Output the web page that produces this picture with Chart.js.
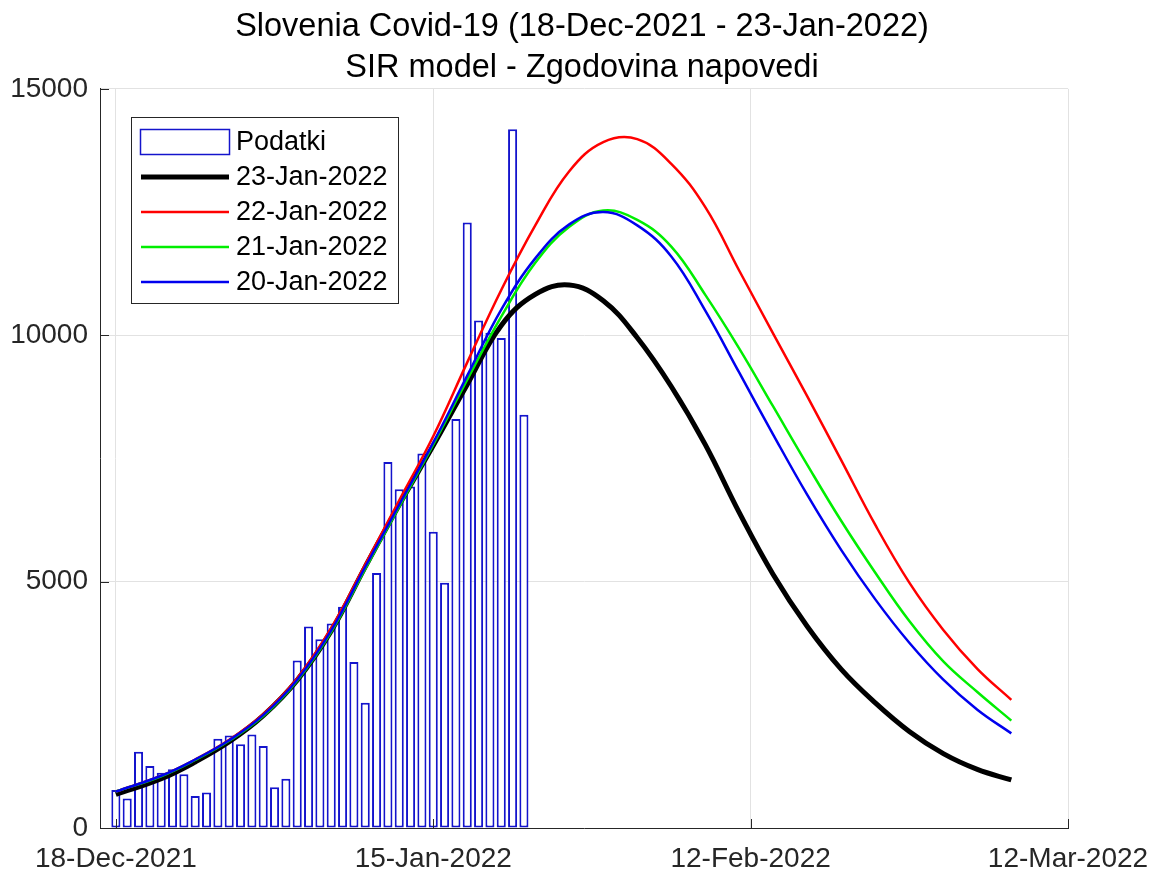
<!DOCTYPE html>
<html>
<head>
<meta charset="utf-8">
<script src="https://cdn.jsdelivr.net/npm/chart.js@4.4.0/dist/chart.umd.min.js"></script>
<style>
  html, body { margin: 0; padding: 0; background: #fff; }
</style>
</head>
<body>
<canvas id="sirChart" width="1164" height="880"></canvas>
<script>
// daily cases, one per day from 18-Dec-2021 to 23-Jan-2022
var cases = [770, 600, 1550, 1260, 1120, 1190, 1090, 650, 720, 1810,
             1875, 1700, 1900, 1665, 826, 1000, 3400, 4090, 3830, 4150,
             4490, 3370, 2540, 5175, 7430, 6875, 6930, 7600, 6010, 4975,
             8300, 12290, 10300, 10050, 9945, 14180, 8385];

// SIR forecasts, sampled at these days after 18-Dec-2021
var modelDays = [0, 4, 7, 10, 13, 16, 19, 22, 25, 28, 31, 34, 37, 40,
                 43, 46, 49, 52, 55, 58, 61, 64, 67, 70, 73, 76, 79];
var fc23Jan = [680, 1000, 1340, 1750, 2280, 3000, 4000, 5300, 6560, 7760, 9000, 10200, 10830, 11020,
               10700, 9950, 8960, 7780, 6400, 5140, 4090, 3220, 2540, 1960, 1510, 1190, 975];
var fc22Jan = [740, 1060, 1390, 1790, 2310, 3040, 4060, 5350, 6650, 7950, 9450, 10920, 12230, 13330,
               13920, 13980, 13480, 12600, 11310, 10030, 8760, 7460, 6150, 4980, 4020, 3230, 2600];
var fc21Jan = [740, 1050, 1380, 1770, 2270, 2990, 3980, 5260, 6520, 7780, 9100, 10380, 11470, 12200,
               12530, 12340, 11800, 10820, 9730, 8550, 7370, 6230, 5180, 4200, 3380, 2760, 2180];
var fc20Jan = [740, 1060, 1390, 1780, 2290, 3010, 4010, 5300, 6560, 7820, 9180, 10520, 11560, 12250,
               12500, 12230, 11600, 10500, 9240, 7980, 6760, 5640, 4640, 3760, 3010, 2400, 1920];

var titleLines = ['Slovenia Covid-19 (18-Dec-2021 - 23-Jan-2022)', 'SIR model - Zgodovina napovedi'];
var xTickDays = [0, 28, 56, 84];
var xTickLabels = ['18-Dec-2021', '15-Jan-2022', '12-Feb-2022', '12-Mar-2022'];
var yTickStep = 5000;

var FONT = '"Liberation Sans", Arial, sans-serif';
var AXIS_COLOR = '#262626';
var GRID_COLOR = '#e2e2e2';

function toPoints(xs, ys) {
    return ys.map(function (v, i) { return { x: xs[i], y: v }; });
}

function lineSet(label, values, color, width, order) {
    return {
        type: 'line',
        label: label,
        data: toPoints(modelDays, values),
        borderColor: color,
        borderWidth: width,
        pointRadius: 0,
        fill: false,
        tension: 0.4,
        order: order
    };
}

// legend drawn inside the axes, like matlab's "northwest" legend
var boxLegend = {
    id: 'boxLegend',
    afterDraw: function (chart) {
        var ctx = chart.ctx;
        var bx = 131, by = 117, bw = 267, bh = 186;
        ctx.save();
        ctx.fillStyle = '#fff';
        ctx.fillRect(bx, by, bw, bh);
        ctx.strokeStyle = AXIS_COLOR;
        ctx.lineWidth = 1;
        ctx.strokeRect(bx + 0.5, by + 0.5, bw, bh);
        ctx.font = '27px ' + FONT;
        ctx.textBaseline = 'middle';
        chart.data.datasets.forEach(function (ds, i) {
            var cy = by + 25 + i * 35;
            if (ds.type === 'bar') {
                ctx.strokeStyle = ds.borderColor;
                ctx.lineWidth = 1.5;
                ctx.strokeRect(140.5, cy - 12.5, 89, 25);
            } else {
                ctx.strokeStyle = ds.borderColor;
                ctx.lineWidth = ds.borderWidth;
                ctx.beginPath();
                ctx.moveTo(141, cy);
                ctx.lineTo(229, cy);
                ctx.stroke();
            }
            ctx.fillStyle = '#000';
            ctx.fillText(ds.label, 236, cy + 1);
        });
        ctx.restore();
    }
};

// matlab puts the tick marks inside the axes
var innerTicks = {
    id: 'innerTicks',
    afterDatasetsDraw: function (chart) {
        var a = chart.chartArea, ctx = chart.ctx;
        var xs = chart.scales.x, ys = chart.scales.y;
        ctx.save();
        ctx.strokeStyle = AXIS_COLOR;
        ctx.lineWidth = 1;
        ctx.beginPath();
        xs.ticks.forEach(function (t) {
            var px = Math.round(xs.getPixelForValue(t.value)) + 0.5;
            ctx.moveTo(px, a.bottom);
            ctx.lineTo(px, a.bottom - 9);
        });
        ys.ticks.forEach(function (t) {
            var py = Math.round(ys.getPixelForValue(t.value)) + 0.5;
            ctx.moveTo(a.left, py);
            ctx.lineTo(a.left + 9, py);
        });
        ctx.stroke();
        ctx.restore();
    }
};

var ctxS = document.getElementById('sirChart').getContext('2d');
var sirChart = new Chart(ctxS, {
    type: 'bar',
    data: {
        datasets: [
            {
                type: 'bar',
                label: 'Podatki',
                data: cases.map(function (v, i) { return { x: i, y: v }; }),
                backgroundColor: '#ffffff',
                borderColor: '#1414cc',
                borderWidth: 2,
                borderSkipped: false,
                barPercentage: 0.8,
                categoryPercentage: 1.0,
                order: 10
            },
            lineSet('23-Jan-2022', fc23Jan, '#000000', 5, 4),
            lineSet('22-Jan-2022', fc22Jan, '#ff0000', 2.5, 3),
            lineSet('21-Jan-2022', fc21Jan, '#00ee00', 2.5, 2),
            lineSet('20-Jan-2022', fc20Jan, '#0000ee', 2.5, 1)
        ]
    },
    options: {
        responsive: false,
        animation: false,
        layout: { padding: 0 },
        plugins: {
            legend: { display: false },
            tooltip: { enabled: false },
            title: {
                display: true,
                text: titleLines,
                color: '#000',
                font: { family: FONT, size: 32.5, weight: 'normal', lineHeight: 1.26 },
                padding: { top: 7, bottom: 0 }
            }
        },
        scales: {
            x: {
                type: 'linear',
                min: -1.4,
                max: 84,
                offset: false,
                grid: { color: GRID_COLOR, drawTicks: false, tickLength: 0, offset: false },
                border: { color: AXIS_COLOR, width: 1 },
                ticks: {
                    color: AXIS_COLOR,
                    font: { family: FONT, size: 28 },
                    padding: 14,
                    maxRotation: 0,
                    autoSkip: false,
                    callback: function (v, i) { return xTickLabels[i]; }
                },
                afterBuildTicks: function (s) {
                    s.ticks = xTickDays.map(function (d) { return { value: d }; });
                },
                afterFit: function (s) { s.height = 52; }
            },
            y: {
                min: 0,
                max: 15000,
                grid: { color: GRID_COLOR, drawTicks: false, tickLength: 0 },
                border: { color: AXIS_COLOR, width: 1 },
                ticks: {
                    stepSize: yTickStep,
                    color: AXIS_COLOR,
                    font: { family: FONT, size: 28 },
                    padding: 12,
                    callback: function (v) { return String(v); }
                },
                afterFit: function (s) { s.width = 100; }
            },
            yPad: {
                position: 'right',
                display: true,
                grid: { display: false, drawTicks: false },
                border: { display: false },
                ticks: { display: false },
                afterFit: function (s) { s.width = 96; }
            }
        }
    },
    plugins: [innerTicks, boxLegend]
});
</script>
</body>
</html>
